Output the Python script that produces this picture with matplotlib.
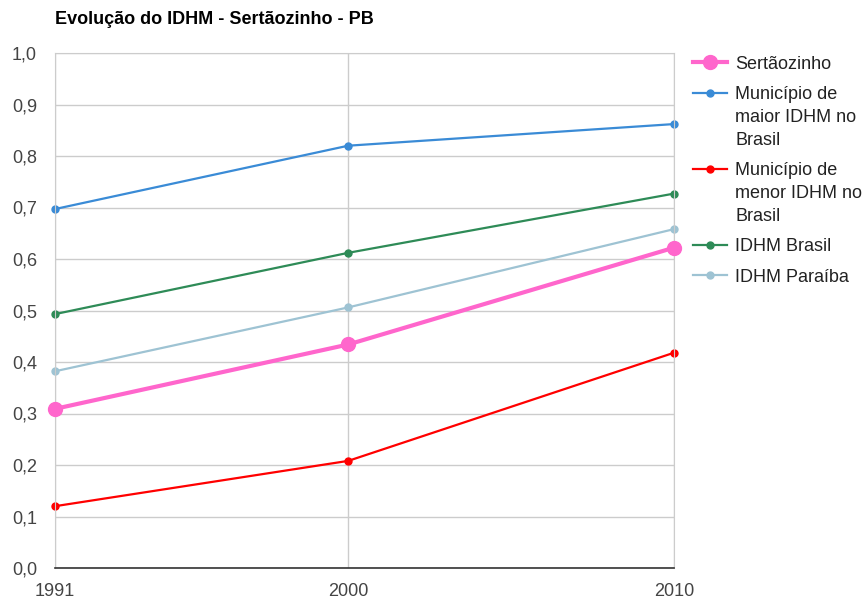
import matplotlib.pyplot as plt
from matplotlib.ticker import FuncFormatter

plt.rcParams['font.family'] = ['Liberation Sans', 'DejaVu Sans']

anos = [1991, 2000, 2010]
sertaozinho = [0.309, 0.434, 0.622]
maior_idhm = [0.697, 0.820, 0.862]
menor_idhm = [0.120, 0.208, 0.418]
idhm_brasil = [0.493, 0.612, 0.727]
idhm_paraiba = [0.382, 0.506, 0.658]

fig = plt.figure(figsize=(8.63, 5.99), dpi=100)
ax = fig.add_axes([55 / 863, 31 / 599, 619 / 863, 515 / 599])

ax.plot(anos, sertaozinho, color='#ff66cc', lw=3, marker='o', ms=10, label='Sertãozinho', zorder=5, clip_on=False)
ax.plot(anos, maior_idhm, color='#3a8bd6', lw=1.6, marker='o', ms=5, label='Município de\nmaior IDHM no\nBrasil', clip_on=False)
ax.plot(anos, menor_idhm, color='#ff0000', lw=1.6, marker='o', ms=5, label='Município de\nmenor IDHM no\nBrasil', clip_on=False)
ax.plot(anos, idhm_brasil, color='#2e8b57', lw=1.6, marker='o', ms=5, label='IDHM Brasil', clip_on=False)
ax.plot(anos, idhm_paraiba, color='#9ec3d3', lw=1.6, marker='o', ms=5, label='IDHM Paraíba', clip_on=False)

ax.set_xlim(1991, 2010)
ax.set_ylim(0, 1.0)
ax.set_xticks(anos)
ax.set_yticks([i / 10 for i in range(11)])
ax.yaxis.set_major_formatter(FuncFormatter(lambda v, p: f'{v:.1f}'.replace('.', ',')))
ax.grid(True, color='#cccccc', lw=1)
ax.set_axisbelow(True)
for s in ['top', 'right', 'left']:
    ax.spines[s].set_color('#cccccc')
ax.spines['bottom'].set_color('#333333')
ax.spines['bottom'].set_linewidth(1.2)
ax.tick_params(length=0, labelsize=13, colors='#444444')
ax.tick_params(axis='x', pad=10.5)
ax.tick_params(axis='y', pad=13)

fig.text(55 / 863, 1 - 20 / 599, 'Evolução do IDHM - Sertãozinho - PB', fontsize=13,
         fontweight='bold', color='#000000', va='center')

leg = fig.legend(loc='upper left', bbox_to_anchor=(693 / 863, 1 - 56 / 599), frameon=False,
                 fontsize=13, handlelength=1.9, labelspacing=0.74, handletextpad=0.45,
                 labelcolor='#222222', borderaxespad=0, borderpad=0)
for t in leg.get_texts():
    t.set_linespacing(1.45)
# align handles with first line of multi-line labels
for col in leg._legend_handle_box.get_children():
    for row in col.get_children():
        row.align = 'top'

fig.savefig('out.png', dpi=100)
